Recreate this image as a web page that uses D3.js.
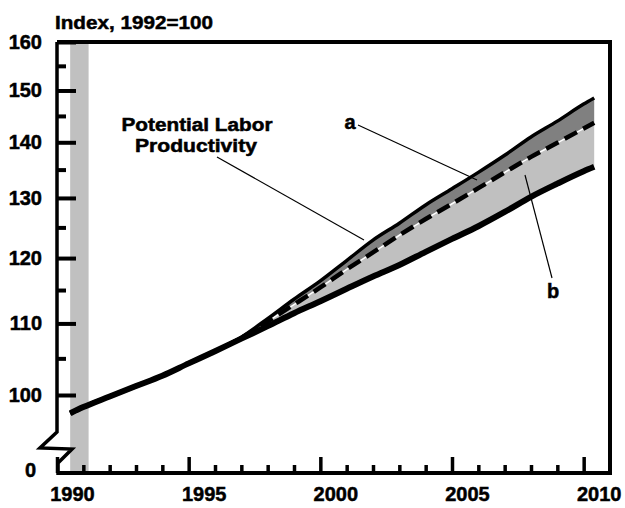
<!DOCTYPE html>
<html><head><meta charset="utf-8">
<script src="https://cdn.jsdelivr.net/npm/d3@7/dist/d3.min.js"></script>
<style>
html,body{margin:0;padding:0;background:#fff;}
svg{display:block;font-family:"Liberation Sans",Arial,sans-serif;font-weight:bold;}
svg text{stroke:#000;stroke-width:0.5px;fill:#000;}
</style></head>
<body><svg id="c" width="625" height="508"></svg>
<script>
// ---- data ----
const years      = [1990.5,1991,1992,1993,1994,1995,1996,1997,1998,1999,2000,2001,2002,2003,2004,2005,2006,2007,2008,2009,2010,2010.4];
const lowerLine  = [97.6,98.4,99.8,101.2,102.6,104.3,106.0,107.8,109.6,111.5,113.3,115.2,117.1,118.9,121.0,123.1,125.2,127.6,130.2,132.5,134.7,135.5];
const dashedLine = [97.6,98.4,99.8,101.2,102.6,104.3,106.0,107.9,110.3,112.8,115.4,118.2,120.9,123.7,126.4,129.0,131.7,134.5,137.3,139.9,142.6,143.7];
const upperLine  = [97.6,98.4,99.8,101.2,102.6,104.3,106.0,108.0,110.7,113.6,116.4,119.6,122.9,125.7,128.8,131.6,134.5,137.6,141.0,144.0,147.3,148.5];
const recession  = [1990.5, 1991.2];
const yMajor = [100,110,120,130,140,150,160];
const yMinor = [105,115,125,135,145,155];
const xMajor = [1990,1995,2000,2005,2010];
const xMinor = [1991,1992,1993,1994,1996,1997,1998,1999,2001,2002,2003,2004,2006,2007,2008,2009];
const yTitle = "Index, 1992=100";

const svg = d3.select("#c");
const L=57, R=610, T=42, B=473;
const x = d3.scaleLinear().domain([1990,2011]).range([L,R]);
const y = d3.scaleLog().domain([100,160]).range([395,T]);

const rows = years.map((yr,i)=>({yr, lo:lowerLine[i], mid:dashedLine[i], hi:upperLine[i]}));
const curve = d3.curveMonotoneX;

// recession band
svg.append("rect").attr("x",x(recession[0])).attr("y",T).attr("width",x(recession[1])-x(recession[0])).attr("height",B-T).attr("fill","#c0c0c0");

// areas
svg.append("path").datum(rows).attr("fill","#c0c0c0")
  .attr("d",d3.area().curve(curve).x(d=>x(d.yr)).y0(d=>y(d.lo)).y1(d=>y(d.mid)));
svg.append("path").datum(rows).attr("fill","#808080")
  .attr("d",d3.area().curve(curve).x(d=>x(d.yr)).y0(d=>y(d.mid)).y1(d=>y(d.hi)));

const ln = k => d3.line().curve(curve).x(d=>x(d.yr)).y(d=>y(d[k]));
svg.append("path").datum(rows).attr("fill","none").attr("stroke","#fff").attr("stroke-width",1.5).attr("d",ln("mid"));
svg.append("path").datum(rows).attr("fill","none").attr("stroke","#000").attr("stroke-width",4.5).attr("stroke-dasharray","14,7").attr("d",ln("mid"));
svg.append("path").datum(rows).attr("fill","none").attr("stroke","#000").attr("stroke-width",3.5).attr("stroke-linejoin","round").attr("d",ln("hi"));
svg.append("path").datum(rows).attr("fill","none").attr("stroke","#000").attr("stroke-width",6).attr("stroke-linejoin","round").attr("d",ln("lo"));

// frame with axis break
svg.append("path").attr("fill","none").attr("stroke","#000").attr("stroke-width",4).attr("stroke-linejoin","miter")
  .attr("d",`M${L},${B} L${R},${B} L${R},${T} L${L},${T}`);
svg.append("path").attr("fill","none").attr("stroke","#000").attr("stroke-width",3.5).attr("stroke-linejoin","miter")
  .attr("d",`M${L},${T} L${L},432 L40,448 L72,449 L58,463 L58,${B+2}`);

// y axis
const yAx = svg.append("g").attr("transform",`translate(${L},0)`)
  .call(d3.axisLeft(y).tickValues(yMajor).tickFormat(d3.format("d")).tickSizeInner(-19).tickSizeOuter(0).tickPadding(15));
const yAxm = svg.append("g").attr("transform",`translate(${L},0)`)
  .call(d3.axisLeft(y).tickValues(yMinor).tickFormat("").tickSizeInner(-9).tickSizeOuter(0));
[yAx,yAxm].forEach(g=>{g.select(".domain").remove();g.selectAll("line").attr("stroke","#000").attr("stroke-width",4);});
yAx.selectAll("text").attr("font-size",20).attr("font-family","Liberation Sans, Arial, sans-serif").attr("font-weight","bold");
svg.append("text").attr("x",36).attr("y",470).attr("dy","0.35em").attr("text-anchor","end").attr("font-size",20).text("0");

// x axis
const xAx = svg.append("g").attr("transform",`translate(0,${B})`)
  .call(d3.axisBottom(x).tickValues(xMajor).tickFormat(d3.format("d")).tickSizeInner(-16).tickSizeOuter(0).tickPadding(14));
const xAxm = svg.append("g").attr("transform",`translate(0,${B})`)
  .call(d3.axisBottom(x).tickValues(xMinor).tickFormat("").tickSizeInner(-8).tickSizeOuter(0));
[xAx,xAxm].forEach(g=>{g.select(".domain").remove();g.selectAll("line").attr("stroke","#000").attr("stroke-width",3.5);});
xAx.selectAll("text").attr("x",15).attr("font-size",20).attr("font-family","Liberation Sans, Arial, sans-serif").attr("font-weight","bold");

// title
svg.append("text").attr("x",55).attr("y",29).attr("font-size",19).attr("textLength",158).attr("lengthAdjust","spacingAndGlyphs").text(yTitle);

// annotations
const lead = (x1,y1,x2,y2)=>svg.append("line").attr("x1",x1).attr("y1",y1).attr("x2",x2).attr("y2",y2).attr("stroke","#000").attr("stroke-width",1.2);
lead(217,157,364,240);
lead(358,125,477,180);
lead(525,175,552,278);
svg.append("text").attr("x",197).attr("y",131).attr("text-anchor","middle").attr("font-size",18).attr("textLength",151).attr("lengthAdjust","spacingAndGlyphs").text("Potential Labor");
svg.append("text").attr("x",196).attr("y",152).attr("text-anchor","middle").attr("font-size",18).attr("textLength",122).attr("lengthAdjust","spacingAndGlyphs").text("Productivity");
svg.append("text").attr("x",350).attr("y",129).attr("text-anchor","middle").attr("font-size",20).text("a");
svg.append("text").attr("x",553).attr("y",298).attr("text-anchor","middle").attr("font-size",20).text("b");
</script></body></html>
